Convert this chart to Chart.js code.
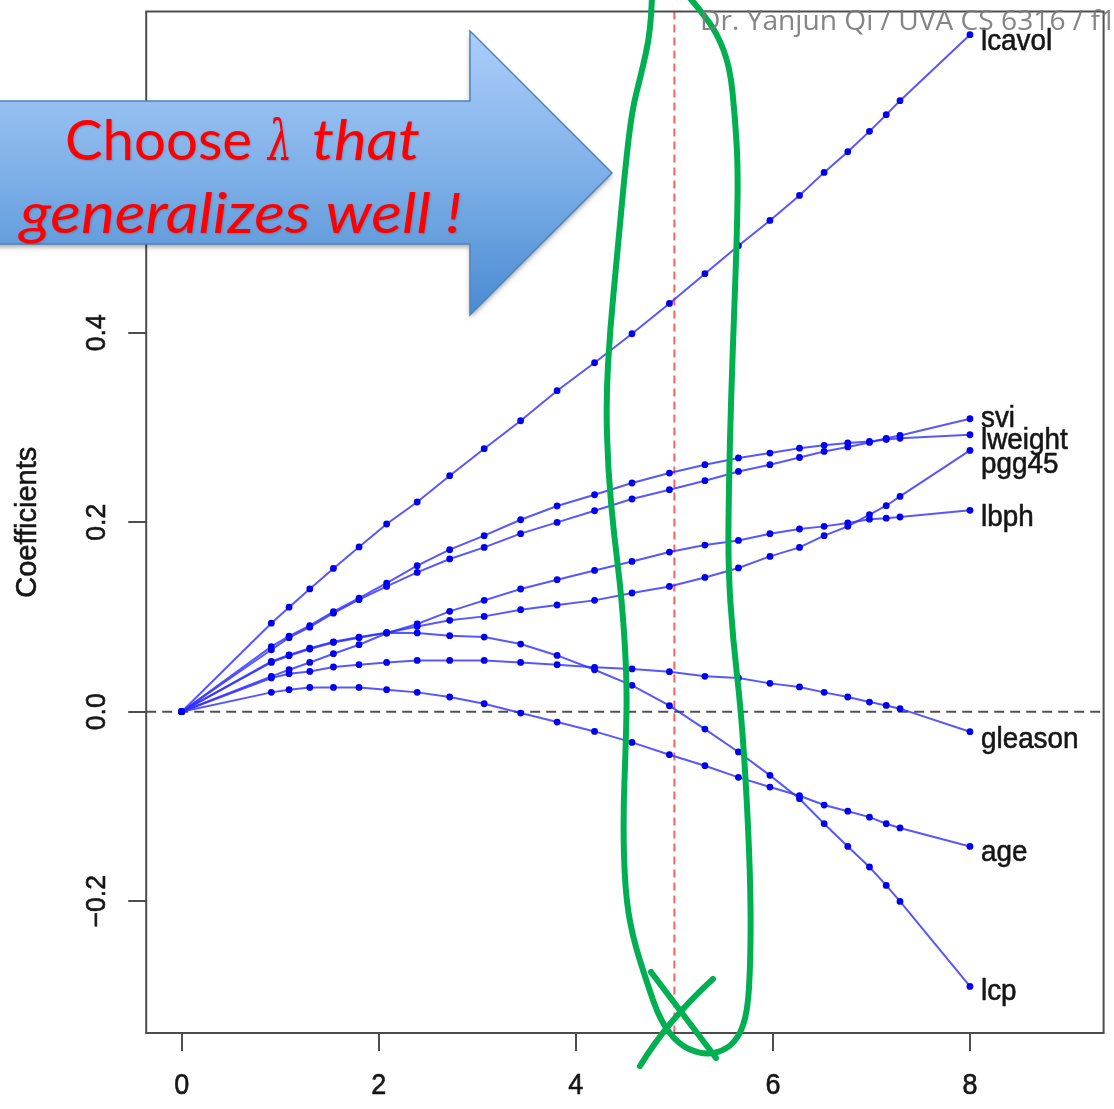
<!DOCTYPE html>
<html>
<head>
<meta charset="utf-8">
<script src="https://cdn.jsdelivr.net/npm/chart.js@4.4.1/dist/chart.umd.min.js"></script>
<style>
  html, body { margin: 0; padding: 0; background: #fff; overflow: hidden; }
  canvas { display: block; }
</style>
</head>
<body>
<canvas id="ridge" width="1114" height="1109"></canvas>
<script>
// Effective degrees of freedom df(lambda) along the ridge path
const dfValues = [0, 0.91, 1.09, 1.30, 1.54, 1.80, 2.08, 2.39, 2.72, 3.07, 3.44, 3.81, 4.19, 4.57, 4.95, 5.31, 5.65, 5.97, 6.27, 6.52, 6.76, 6.98, 7.15, 7.29, 8.00];

// Ridge coefficient profiles, one array per predictor
const lcavol  = [0, 0.0934, 0.1103, 0.1296, 0.1512, 0.1739, 0.1981, 0.2213, 0.2491, 0.2776, 0.3071, 0.3388, 0.3683, 0.3989, 0.4309, 0.4623, 0.4918, 0.5185, 0.5449, 0.5692, 0.5910, 0.6125, 0.6301, 0.6449, 0.7145];
const lweight = [0, 0.0686, 0.0797, 0.0908, 0.1055, 0.1198, 0.1358, 0.1541, 0.1710, 0.1858, 0.2026, 0.2171, 0.2290, 0.2414, 0.2519, 0.2607, 0.2678, 0.2730, 0.2781, 0.2811, 0.2836, 0.2853, 0.2874, 0.2885, 0.2923];
const svi     = [0, 0.0654, 0.0781, 0.0892, 0.1040, 0.1182, 0.1322, 0.1470, 0.1612, 0.1734, 0.1879, 0.1998, 0.2121, 0.2245, 0.2343, 0.2438, 0.2536, 0.2607, 0.2683, 0.2747, 0.2794, 0.2842, 0.2885, 0.2915, 0.3092];
const pgg45   = [0, 0.0520, 0.0591, 0.0662, 0.0731, 0.0781, 0.0834, 0.0900, 0.0964, 0.1006, 0.1077, 0.1126, 0.1175, 0.1253, 0.1322, 0.1417, 0.1517, 0.1639, 0.1734, 0.1858, 0.1956, 0.2079, 0.2174, 0.2272, 0.2758];
const lbph    = [0, 0.0373, 0.0443, 0.0520, 0.0612, 0.0707, 0.0828, 0.0926, 0.1059, 0.1175, 0.1295, 0.1393, 0.1491, 0.1586, 0.1685, 0.1759, 0.1808, 0.1879, 0.1928, 0.1956, 0.1992, 0.2032, 0.2042, 0.2055, 0.2125];
const gleason = [0, 0.0356, 0.0401, 0.0425, 0.0472, 0.0496, 0.0520, 0.0541, 0.0541, 0.0541, 0.0520, 0.0496, 0.0468, 0.0451, 0.0422, 0.0373, 0.0356, 0.0299, 0.0261, 0.0204, 0.0155, 0.0102, 0.0066, 0.0032, -0.0211];
const age     = [0, 0.0204, 0.0232, 0.0256, 0.0256, 0.0256, 0.0232, 0.0204, 0.0155, 0.0084, -0.0014, -0.0109, -0.0208, -0.0324, -0.0454, -0.0570, -0.0693, -0.0795, -0.0887, -0.0985, -0.1050, -0.1113, -0.1182, -0.1227, -0.1422];
const lcp     = [0, 0.0530, 0.0600, 0.0670, 0.0738, 0.0788, 0.0834, 0.0831, 0.0802, 0.0788, 0.0714, 0.0594, 0.0443, 0.0278, 0.0063, -0.0183, -0.0425, -0.0672, -0.0918, -0.1182, -0.1422, -0.1639, -0.1833, -0.2002, -0.2899];

const seriesNames  = ['lcavol', 'svi', 'lweight', 'pgg45', 'lbph', 'gleason', 'age', 'lcp'];
const seriesValues = [lcavol, svi, lweight, pgg45, lbph, gleason, age, lcp];

// Axis ticks
const xTicks = [0, 2, 4, 6, 8];
const xTickLabels = ['0', '2', '4', '6', '8'];
const yTicks = [-0.2, 0, 0.2, 0.4];
const yTickLabels = ['\u22120.2', '0.0', '0.2', '0.4'];
const yTitle = 'Coefficients';

// df chosen by cross-validation
const chosenDf = 5;

// Annotation text
const calloutWords = ['Choose', '\u03bb', 'that'];
const calloutLine2 = 'generalizes well !';
const creditText = 'Dr. Yanjun Qi / UVA CS 6316 / f1';

// vertical nudges (px) that keep the end labels from colliding
const labelNudge = { lcavol: 7, svi: 0, lweight: 6, pgg45: 15, lbph: 8, gleason: 8, age: 7, lcp: 6 };

const AXIS_FONT = '"Liberation Sans", Arial, Helvetica, sans-serif';
const INK = '#161616';

const datasets = seriesNames.map((name, i) => ({
  label: name,
  data: dfValues.map((d, k) => ({ x: d, y: seriesValues[i][k] })),
  borderColor: 'rgba(45,45,255,0.8)',
  borderWidth: 2,
  pointRadius: 3.4,
  pointHoverRadius: 3.4,
  pointBackgroundColor: '#0000f0',
  pointBorderWidth: 0,
  tension: 0,
  fill: false
}));

// text with a horizontal squeeze and a hairline outline for weight
function inkText(ctx, text, x, y, sx) {
  ctx.save();
  ctx.translate(x, y);
  ctx.scale(sx, 1);
  ctx.fillText(text, 0, 0);
  ctx.strokeText(text, 0, 0);
  ctx.restore();
}

function fitText(ctx, text, left, baseline, width) {
  const w = ctx.measureText(text).width;
  ctx.save();
  ctx.translate(left, baseline);
  ctx.scale(width / w, 1);
  ctx.textAlign = 'left';
  ctx.fillText(text, 0, 0);
  ctx.restore();
}

const plotDecor = {
  id: 'plotDecor',
  beforeDatasetsDraw(chart) {
    const { ctx, chartArea: a, scales: { x, y } } = chart;
    ctx.save();
    // zero reference line
    const y0 = y.getPixelForValue(0);
    ctx.strokeStyle = '#505050';
    ctx.lineWidth = 2;
    ctx.setLineDash([10, 6]);
    ctx.beginPath();
    ctx.moveTo(a.left, y0);
    ctx.lineTo(a.right, y0);
    ctx.stroke();
    // chosen df marker
    const xc = x.getPixelForValue(chosenDf);
    ctx.strokeStyle = 'rgba(255,70,70,0.85)';
    ctx.lineWidth = 2;
    ctx.setLineDash([8, 5]);
    ctx.beginPath();
    ctx.moveTo(xc, a.top);
    ctx.lineTo(xc, a.bottom);
    ctx.stroke();
    ctx.restore();
  },
  afterDatasetsDraw(chart) {
    const { ctx, chartArea: a, scales: { x, y } } = chart;
    ctx.save();
    // plot box
    ctx.strokeStyle = '#4d4d4d';
    ctx.lineWidth = 2;
    ctx.setLineDash([]);
    ctx.strokeRect(a.left, a.top, a.right - a.left, a.bottom - a.top);

    ctx.fillStyle = INK;
    ctx.strokeStyle = INK;
    ctx.lineWidth = 0.6;
    ctx.textBaseline = 'middle';

    // labels at the end of each path
    ctx.font = '29px ' + AXIS_FONT;
    ctx.textAlign = 'left';
    const xEnd = x.getPixelForValue(dfValues[dfValues.length - 1]);
    seriesNames.forEach((name, i) => {
      const v = seriesValues[i][seriesValues[i].length - 1];
      inkText(ctx, name, xEnd + 11, y.getPixelForValue(v) + labelNudge[name], 0.96);
    });

    // x tick labels
    ctx.font = '30px ' + AXIS_FONT;
    ctx.textAlign = 'center';
    xTicks.forEach((t, i) => {
      inkText(ctx, xTickLabels[i], x.getPixelForValue(t), 1086, 0.9);
    });

    // y tick labels, rotated as in base R graphics
    ctx.font = '28px ' + AXIS_FONT;
    yTicks.forEach((t, i) => {
      ctx.save();
      ctx.translate(97, y.getPixelForValue(t));
      ctx.rotate(-Math.PI / 2);
      ctx.textAlign = 'center';
      inkText(ctx, yTickLabels[i], 0, 0, 0.95);
      ctx.restore();
    });

    // y axis title
    ctx.font = '29px ' + AXIS_FONT;
    ctx.save();
    ctx.translate(28, (a.top + a.bottom) / 2);
    ctx.rotate(-Math.PI / 2);
    ctx.textAlign = 'center';
    inkText(ctx, yTitle, 0, 0, 1.0);
    ctx.restore();
    ctx.restore();
  },
  afterDraw(chart) {
    const ctx = chart.ctx;
    ctx.save();

    // callout arrow
    ctx.beginPath();
    ctx.moveTo(-5, 101);
    ctx.lineTo(470, 101);
    ctx.lineTo(470, 31);
    ctx.lineTo(612, 173);
    ctx.lineTo(470, 315);
    ctx.lineTo(470, 244);
    ctx.lineTo(-5, 244);
    ctx.closePath();
    const g = ctx.createLinearGradient(0, 31, 0, 315);
    g.addColorStop(0, '#acceFA');
    g.addColorStop(0.5, '#7fb0e8');
    g.addColorStop(1, '#4a8bd2');
    ctx.shadowColor = 'rgba(0,0,0,0.35)';
    ctx.shadowBlur = 5;
    ctx.shadowOffsetY = 3;
    ctx.fillStyle = g;
    ctx.fill();
    ctx.shadowColor = 'transparent';
    ctx.strokeStyle = '#4f81bd';
    ctx.lineWidth = 1.5;
    ctx.stroke();

    // callout text
    ctx.fillStyle = '#ff0000';
    ctx.textBaseline = 'alphabetic';
    ctx.shadowColor = 'rgba(0,0,0,0.18)';
    ctx.shadowBlur = 2;
    ctx.shadowOffsetX = 1;
    ctx.shadowOffsetY = 1;
    ctx.font = '56px Lato, "Open Sans", sans-serif';
    fitText(ctx, calloutWords[0], 65, 160, 187);
    ctx.font = 'italic 56px "DejaVu Serif", serif';
    fitText(ctx, calloutWords[1], 268, 160, 24);
    ctx.font = 'italic 56px Lato, "Open Sans", sans-serif';
    fitText(ctx, calloutWords[2], 312, 160, 108);
    fitText(ctx, calloutLine2, 20, 233, 442);
    ctx.shadowColor = 'transparent';

    // hand-drawn selection loop
    const loop = [[652,-4],[651,30],[641,75],[632,110],[625,170],[617,257],[610,330],[606,400],[608,470],[614,535],[622,600],[627,680],[626,740],[623,820],[625,890],[632,935],[647,983],[660,1020],[678,1044],[700,1054],[718,1053],[735,1043],[746,1020],[750,980],[751,900],[747,800],[741,710],[733,640],[728,567],[729,480],[731,400],[734,317],[737,233],[738,167],[735,117],[730,67],[717,33],[700,10],[688,-4]];
    ctx.strokeStyle = '#00b050';
    ctx.lineWidth = 6;
    ctx.lineCap = 'round';
    ctx.lineJoin = 'round';
    ctx.beginPath();
    ctx.moveTo(loop[0][0], loop[0][1]);
    for (let i = 1; i < loop.length - 1; i++) {
      const mx = (loop[i][0] + loop[i + 1][0]) / 2;
      const my = (loop[i][1] + loop[i + 1][1]) / 2;
      ctx.quadraticCurveTo(loop[i][0], loop[i][1], mx, my);
    }
    ctx.lineTo(loop[loop.length - 1][0], loop[loop.length - 1][1]);
    ctx.stroke();
    // cross mark
    ctx.beginPath();
    ctx.moveTo(651, 972);
    ctx.quadraticCurveTo(686, 1018, 716, 1058);
    ctx.moveTo(713, 979);
    ctx.quadraticCurveTo(668, 1020, 640, 1066);
    ctx.stroke();

    // credit line
    ctx.fillStyle = 'rgba(120,120,120,0.9)';
    ctx.font = '28px "Open Sans", Lato, sans-serif';
    fitText(ctx, creditText, 700, 30, 416);
    ctx.restore();
  }
};

new Chart(document.getElementById('ridge'), {
  type: 'line',
  data: { datasets },
  options: {
    responsive: false,
    devicePixelRatio: 1,
    animation: false,
    events: [],
    layout: { padding: { top: 11.5, right: 10.4, left: 0, bottom: 0 } },
    plugins: { legend: { display: false }, tooltip: { enabled: false } },
    scales: {
      x: {
        type: 'linear',
        min: -0.36,
        max: 9.356,
        afterBuildTicks: s => { s.ticks = xTicks.map(v => ({ value: v })); },
        afterFit: s => { s.height = 76; },
        ticks: { display: false, includeBounds: false },
        border: { display: false },
        grid: { drawOnChartArea: false, drawTicks: true, tickLength: 18, color: '#4d4d4d', lineWidth: 2 }
      },
      y: {
        type: 'linear',
        min: -0.3391,
        max: 0.739,
        afterBuildTicks: s => { s.ticks = yTicks.map(v => ({ value: v })); },
        afterFit: s => { s.width = 146.2; },
        ticks: { display: false, includeBounds: false },
        border: { display: false },
        grid: { drawOnChartArea: false, drawTicks: true, tickLength: 18, color: '#4d4d4d', lineWidth: 2 }
      }
    }
  },
  plugins: [plotDecor]
});
</script>
</body>
</html>
